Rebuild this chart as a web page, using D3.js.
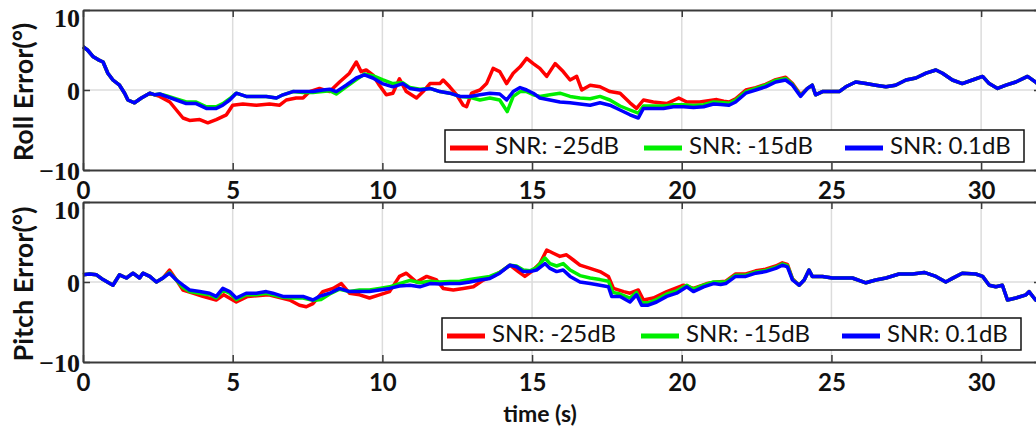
<!DOCTYPE html>
<html>
<head>
<meta charset="utf-8">
<script src="https://cdn.jsdelivr.net/npm/d3@7"></script>
<style>
    body { margin: 0; background: #fff; }
    svg { display: block; }
</style>
</head>
<body>
<div id="chart"></div>
<script>
// tick values
const xTicks = [0, 5, 10, 15, 20, 25, 30]
const yTicks = [-10, 0, 10]
const seriesNames = ["SNR: -25dB", "SNR: -15dB", "SNR: 0.1dB"]
const seriesColors = ["#ff0000", "#00ee00", "#0000ff"]

// roll error, [time, value]; the three runs share the start and the end
const rollStart = [[0, 5.4], [0.15, 5.0], [0.33, 4.2], [0.5, 3.8], [0.67, 3.5], [0.83, 2.1], [1.0, 1.25], [1.22, 0.6],
    [1.39, -0.4], [1.5, -1.25], [1.72, -1.6], [1.95, -1.0], [2.23, -0.4], [2.4, -0.6]]
const rollEnd = [[24.2, 0.2], [24.36, 0.6], [24.47, -0.6], [24.7, -0.2], [25.03, -0.2], [25.26, -0.2], [25.48, 0.4],
    [25.81, 1.0], [26.15, 0.8], [26.48, 0.6], [26.82, 0.4], [27.14, 0.6], [27.49, 1.25], [27.82, 1.5], [28.16, 2.1],
    [28.49, 2.5], [28.71, 2.1], [29.04, 1.25], [29.37, 0.8], [29.71, 1.25], [30.05, 1.7], [30.27, 0.8], [30.55, 0.2],
    [30.83, 0.6], [31.16, 1.0], [31.55, 1.7], [31.82, 1.0], [32, 0.4]]
const rollRed = [[2.56, -0.8], [2.9, -1.5], [3.12, -2.5], [3.34, -3.5], [3.56, -3.8], [3.9, -3.7], [4.17, -4.1],
    [4.45, -3.7], [4.79, -3.1], [5.0, -1.9], [5.34, -1.75], [5.79, -1.9], [6.23, -1.75], [6.57, -1.9], [6.79, -1.25],
    [7.12, -1.0], [7.35, -1.0], [7.57, -0.2], [7.9, 0.2], [8.24, -0.2], [8.57, 1.0], [8.9, 2.1], [9.13, 3.5],
    [9.29, 2.3], [9.46, 2.5], [9.68, 1.9], [9.9, 0.6], [10.13, -0.6], [10.35, -0.4], [10.57, 1.4], [10.8, -0.2],
    [11.14, -1.0], [11.36, -0.2], [11.59, 0.8], [11.92, 0.8], [12.03, 1.25], [12.25, 0.4], [12.48, -0.6],
    [12.7, -1.9], [12.81, -2.1], [12.98, -0.4], [13.26, 0.0], [13.48, 0.8], [13.7, 2.7], [13.92, 2.3], [14.15, 0.8],
    [14.37, 2.1], [14.6, 2.9], [14.82, 3.95], [15.04, 3.3], [15.26, 2.7], [15.49, 1.7], [15.77, 3.3], [16.04, 2.3],
    [16.27, 1.25], [16.49, 1.7], [16.66, 0.0], [16.94, 0.6], [17.27, 0.4], [17.6, -0.2], [17.94, -0.4], [18.27, -1.6],
    [18.49, -2.3], [18.72, -1.25], [19.05, -1.5], [19.5, -1.7], [19.9, -1.0], [20.17, -1.5], [20.6, -1.5],
    [21.17, -1.2], [21.4, -1.4], [21.58, -1.5], [21.8, -1.1], [22.14, 0.0], [22.47, 0.3], [22.8, 0.7], [23.14, 1.3],
    [23.47, 1.6], [23.7, 0.8], [23.97, -0.6]]
const rollGreen = [[2.56, -0.5], [2.78, -0.7], [3.12, -1.1], [3.45, -1.5], [3.78, -1.5], [4.12, -2.1], [4.45, -2.1],
    [4.67, -1.7], [4.9, -1.1], [5.12, -0.4], [5.45, -0.8], [5.79, -0.8], [6.12, -0.8], [6.46, -1.0], [6.68, -0.6],
    [7.01, -0.2], [7.35, -0.3], [7.68, -0.3], [8.01, -0.2], [8.24, -0.1], [8.46, -0.5], [8.79, 0.4], [9.13, 1.3],
    [9.4, 2.0], [9.68, 1.8], [10.0, 1.3], [10.35, 0.8], [10.68, 0.9], [10.92, 0.3], [11.25, 0.1], [11.59, 0.2],
    [11.92, -0.2], [12.25, -0.4], [12.59, -0.8], [12.92, -0.9], [13.26, -1.25], [13.59, -1.0], [13.92, -1.25],
    [14.17, -2.7], [14.37, -0.8], [14.6, -0.2], [14.82, -0.2], [15.04, -0.6], [15.26, -0.8], [15.6, -0.6],
    [15.93, -0.4], [16.27, -0.8], [16.6, -1.0], [16.94, -1.1], [17.27, -0.8], [17.6, -1.25], [17.94, -2.0],
    [18.27, -2.5], [18.55, -2.9], [18.72, -2.0], [19.05, -2.0], [19.39, -2.0], [19.72, -1.85], [20.06, -1.85],
    [20.39, -1.95], [20.73, -1.85], [21.06, -1.5], [21.3, -1.55], [21.58, -1.65], [21.8, -1.25], [22.14, -0.2],
    [22.47, 0.2], [22.8, 0.6], [23.14, 1.2], [23.47, 1.45], [23.7, 0.7], [23.97, -0.7]]
const rollBlue = [[2.56, -0.5], [2.78, -0.8], [3.12, -1.25], [3.45, -1.7], [3.78, -1.7], [4.12, -2.3], [4.45, -2.3],
    [4.67, -1.9], [4.9, -1.25], [5.12, -0.4], [5.45, -0.8], [5.79, -0.8], [6.12, -0.8], [6.46, -1.0], [6.68, -0.6],
    [7.01, -0.2], [7.35, -0.2], [7.68, -0.2], [8.01, 0.0], [8.24, 0.1], [8.46, -0.2], [8.79, 0.6], [9.13, 1.5],
    [9.4, 1.9], [9.68, 1.5], [10.0, 0.8], [10.35, 0.4], [10.68, 0.8], [10.92, 0.2], [11.25, 0.0], [11.59, 0.2],
    [11.92, -0.2], [12.25, -0.4], [12.59, -0.8], [12.92, -0.8], [13.26, -0.6], [13.59, -0.4], [13.92, -0.5],
    [14.15, -1.25], [14.37, -0.2], [14.6, 0.3], [14.82, 0.0], [15.04, -0.4], [15.26, -1.0], [15.6, -1.25],
    [15.93, -1.5], [16.27, -1.6], [16.6, -1.75], [16.94, -1.9], [17.27, -1.6], [17.6, -1.9], [17.94, -2.5],
    [18.27, -3.1], [18.55, -3.5], [18.72, -2.3], [19.05, -2.3], [19.39, -2.3], [19.72, -2.1], [20.06, -2.1],
    [20.39, -2.2], [20.73, -2.1], [21.06, -1.75], [21.3, -1.8], [21.58, -1.9], [21.8, -1.5], [22.14, -0.4],
    [22.47, 0.0], [22.8, 0.4], [23.14, 1.0], [23.47, 1.25], [23.7, 0.6], [23.97, -0.8]]

// pitch error, [time, value]
const pitchStart = [[0, 0.9], [0.22, 1.0], [0.45, 0.9], [0.67, 0.3], [1.0, -0.4], [1.22, 0.9], [1.45, 0.5],
    [1.67, 1.1], [1.89, 0.5], [2.0, 1.1], [2.23, 0.7], [2.45, 0.0], [2.67, 0.5]]
const pitchEnd = [[23.92, -0.4], [24.09, 0.25], [24.25, 1.5], [24.36, 0.7], [24.7, 0.7], [25.03, 0.5], [25.36, 0.5],
    [25.7, 0.5], [26.15, -0.1], [26.48, 0.25], [26.82, 0.5], [27.26, 1.0], [27.71, 1.0], [28.1, 1.2], [28.49, 0.7],
    [28.82, 0.0], [29.04, 0.45], [29.37, 1.1], [29.82, 1.0], [30.05, 0.7], [30.27, -0.4], [30.49, -0.6],
    [30.71, -0.4], [30.88, -2.25], [31.16, -2.0], [31.5, -1.6], [31.6, -1.2], [31.82, -2.25], [32, -2.5]]
const pitchRed = [[2.89, 1.5], [3.12, 0.25], [3.34, -1.0], [3.67, -1.4], [4.0, -1.8], [4.45, -2.25], [4.7, -1.6],
    [5.12, -2.5], [5.5, -1.8], [6.2, -1.6], [6.9, -2.25], [7.23, -2.9], [7.46, -3.1], [7.68, -2.7], [8.01, -1.2],
    [8.35, -0.8], [8.63, -0.2], [8.9, -1.4], [9.24, -1.6], [9.57, -2.0], [9.9, -1.6], [10.24, -1.2], [10.57, 0.7],
    [10.8, 1.1], [11.14, 0.0], [11.48, 0.7], [11.81, 0.25], [12.03, -0.8], [12.37, -1.0], [12.7, -0.8],
    [13.04, -0.6], [13.37, 0.25], [13.7, 0.7], [14.04, 1.5], [14.26, 2.1], [14.54, 1.3], [14.76, 0.7], [14.98, 1.3],
    [15.26, 2.3], [15.49, 4.0], [15.71, 3.6], [15.93, 3.2], [16.15, 3.4], [16.38, 2.75], [16.6, 2.1], [16.94, 1.7],
    [17.27, 1.3], [17.55, 0.7], [17.72, -0.8], [18.06, -1.2], [18.27, -1.4], [18.55, -1.0], [18.72, -2.25],
    [19.05, -2.0], [19.5, -1.2], [20.06, -0.4], [20.39, -0.8], [20.84, -0.2], [21.17, 0.0], [21.47, 0.1],
    [21.8, 1.0], [22.14, 1.0], [22.47, 1.4], [22.8, 1.6], [23.14, 2.0], [23.36, 2.4], [23.53, 2.2], [23.7, 0.4]]
const pitchGreen = [[2.89, 1.2], [3.12, 0.25], [3.34, -0.7], [3.56, -1.2], [3.9, -1.4], [4.23, -1.6], [4.45, -2.0],
    [4.67, -1.0], [4.9, -1.4], [5.12, -2.2], [5.45, -1.6], [5.79, -1.6], [6.12, -1.4], [6.34, -1.6], [6.68, -1.9],
    [7.01, -2.0], [7.35, -2.0], [7.68, -2.3], [7.95, -2.2], [8.24, -1.5], [8.57, -0.9], [8.9, -1.2], [9.24, -1.0],
    [9.57, -1.0], [9.9, -0.8], [10.24, -0.6], [10.57, -0.2], [10.92, 0.2], [11.25, -0.1], [11.59, 0.1], [11.92, 0.0],
    [12.25, 0.05], [12.59, 0.1], [12.92, 0.3], [13.26, 0.5], [13.59, 0.7], [13.92, 1.2], [14.26, 2.1], [14.48, 2.0],
    [14.71, 1.5], [14.93, 1.4], [15.15, 1.8], [15.43, 3.0], [15.6, 2.3], [15.82, 2.0], [16.04, 2.3], [16.27, 1.5],
    [16.6, 0.8], [16.94, 0.5], [17.27, 0.3], [17.55, 0.1], [17.7, -1.3], [17.94, -1.5], [18.27, -2.0], [18.49, -1.3],
    [18.66, -2.6], [18.88, -2.6], [19.16, -2.2], [19.5, -1.5], [19.83, -1.1], [20.17, -0.4], [20.39, -0.9],
    [20.73, -0.4], [21.06, 0.0], [21.47, 0.0], [21.8, 0.85], [22.14, 0.85], [22.47, 1.25], [22.8, 1.45],
    [23.14, 1.85], [23.36, 2.25], [23.53, 2.05], [23.7, 0.35]]
const pitchBlue = [[2.89, 1.1], [3.12, 0.25], [3.34, -0.4], [3.56, -1.0], [3.9, -1.2], [4.23, -1.4], [4.45, -1.8],
    [4.67, -0.8], [4.9, -1.2], [5.12, -2.0], [5.45, -1.4], [5.79, -1.4], [6.12, -1.2], [6.34, -1.4], [6.68, -1.8],
    [7.01, -1.8], [7.35, -1.8], [7.68, -2.25], [7.9, -1.8], [8.24, -1.4], [8.57, -0.8], [8.9, -1.2], [9.24, -1.2],
    [9.57, -1.2], [9.9, -1.0], [10.24, -0.8], [10.57, -0.5], [10.92, -0.4], [11.25, -0.6], [11.59, -0.2],
    [11.92, -0.25], [12.25, -0.2], [12.59, -0.2], [12.92, 0.0], [13.26, 0.25], [13.59, 0.45], [13.92, 1.1],
    [14.26, 2.1], [14.48, 1.9], [14.71, 1.3], [14.93, 1.3], [15.15, 1.5], [15.43, 2.3], [15.6, 1.7], [15.82, 1.3],
    [16.04, 1.5], [16.27, 0.7], [16.6, 0.0], [16.94, -0.2], [17.27, -0.4], [17.55, -0.6], [17.66, -1.8],
    [17.94, -1.8], [18.27, -2.5], [18.49, -1.6], [18.66, -2.9], [18.88, -2.9], [19.16, -2.5], [19.5, -1.8],
    [19.83, -1.4], [20.17, -0.6], [20.39, -1.2], [20.73, -0.6], [21.06, -0.2], [21.3, -0.3], [21.47, -0.2],
    [21.8, 0.7], [22.14, 0.7], [22.47, 1.1], [22.8, 1.3], [23.14, 1.7], [23.36, 2.1], [23.53, 1.9], [23.7, 0.25]]

const width = 1036, height = 428
const plotLeft = 83, plotRight = 1041

var svg = d3.select("#chart").append("svg").attr("width", width).attr("height", height)

var x = d3.scaleLinear().domain([0, 32]).range([plotLeft, plotRight])

function drawPanel(top, bottom, series, label, legendX, legendY) {
    var y = d3.scaleLinear().domain([-10, 10]).range([bottom, top])
    var g = svg.append("g")

    // grid
    g.append("g").selectAll("line").data(xTicks.filter(d => d > 0)).enter().append("line")
        .attr("x1", d => x(d)).attr("x2", d => x(d))
        .attr("y1", top).attr("y2", bottom)
        .attr("stroke", "#dcdcdc").attr("stroke-width", 1.5)
    g.append("line")
        .attr("x1", plotLeft).attr("x2", plotRight)
        .attr("y1", y(0)).attr("y2", y(0))
        .attr("stroke", "#dcdcdc").attr("stroke-width", 1.5)

    // lines
    var line = d3.line().x(d => x(d[0])).y(d => y(d[1]))
    series.forEach((s, i) => {
        g.append("path").datum(s)
            .attr("d", line)
            .attr("fill", "none")
            .attr("stroke", seriesColors[i])
            .attr("stroke-width", 3.5)
            .attr("stroke-linejoin", "round")
    })

    // axes
    var xAxis = g.append("g").attr("transform", "translate(0," + bottom + ")")
        .call(d3.axisBottom(x).tickValues(xTicks).tickSizeInner(-7).tickSizeOuter(0).tickPadding(12))
    g.append("g").attr("transform", "translate(0," + top + ")")
        .call(d3.axisTop(x).tickValues(xTicks).tickSizeInner(-7).tickSizeOuter(0).tickFormat(""))
    var yAxis = g.append("g").attr("transform", "translate(" + plotLeft + ",0)")
        .call(d3.axisLeft(y).tickValues(yTicks).tickSizeInner(-7).tickSizeOuter(0).tickPadding(3))
    g.append("g").attr("transform", "translate(" + plotRight + ",0)")
        .call(d3.axisRight(y).tickValues(yTicks).tickSizeInner(-7).tickSizeOuter(0).tickFormat(""))

    g.selectAll(".domain").attr("stroke", "#3a3a3a").attr("stroke-width", 2)
    g.selectAll(".tick line").attr("stroke", "#3a3a3a").attr("stroke-width", 1.5)
    xAxis.selectAll("text")
        .attr("font-family", "Lato, sans-serif").attr("font-weight", "bold").attr("font-size", 24).attr("fill", "#111")
    yAxis.selectAll("text")
        .attr("font-family", "'Liberation Serif', serif").attr("font-weight", "bold").attr("font-size", 26)
        .attr("fill", "#111")
        .attr("dy", d => d === 10 ? "0.62em" : "0.36em")

    // y label
    svg.append("text")
        .attr("transform", "translate(33," + ((top + bottom) / 2 + 2) + ") rotate(-90)")
        .attr("text-anchor", "middle")
        .attr("font-family", "Lato, sans-serif").attr("font-weight", "bold").attr("font-size", 27)
        .attr("fill", "#111")
        .text(label)

    // legend
    var lg = svg.append("g").attr("transform", "translate(" + legendX + "," + legendY + ")")
    lg.append("rect").attr("width", 579).attr("height", 32)
        .attr("fill", "#fff").attr("stroke", "#111").attr("stroke-width", 1.5)
    var offsets = [5, 199, 400]
    seriesNames.forEach((name, i) => {
        lg.append("line").attr("x1", offsets[i]).attr("x2", offsets[i] + 38)
            .attr("y1", 18).attr("y2", 18)
            .attr("stroke", seriesColors[i]).attr("stroke-width", 5)
        lg.append("text").attr("x", offsets[i] + 45).attr("y", 24)
            .attr("font-family", "Lato, sans-serif").attr("font-size", 24).attr("fill", "#111")
            .text(name)
    })
}

drawPanel(10, 170,
    [rollStart.concat(rollRed, rollEnd), rollStart.concat(rollGreen, rollEnd), rollStart.concat(rollBlue, rollEnd)],
    "Roll Error(°)", 445, 130)
drawPanel(202, 362,
    [pitchStart.concat(pitchRed, pitchEnd), pitchStart.concat(pitchGreen, pitchEnd), pitchStart.concat(pitchBlue, pitchEnd)],
    "Pitch Error(°)", 442, 318)

svg.append("text")
    .attr("x", 540).attr("y", 422)
    .attr("text-anchor", "middle")
    .attr("font-family", "Lato, sans-serif").attr("font-weight", "bold").attr("font-size", 23)
    .attr("fill", "#111")
    .text("time (s)")
</script>
</body>
</html>
